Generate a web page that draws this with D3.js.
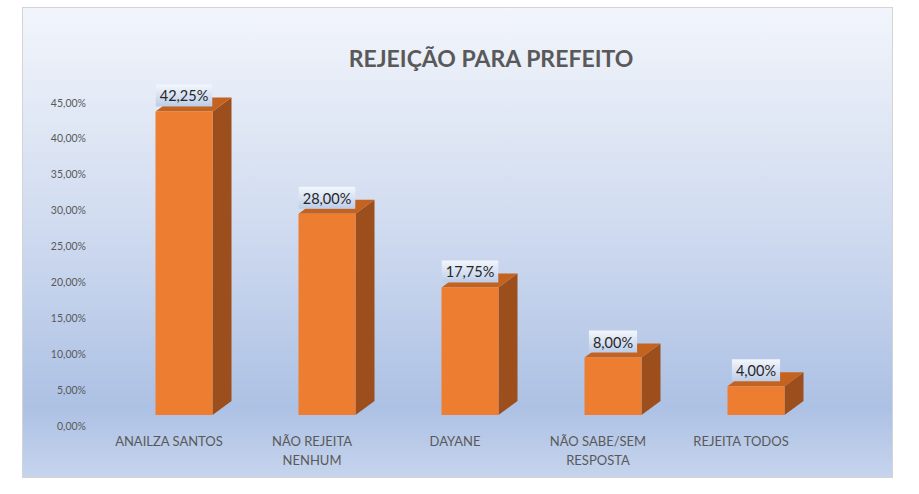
<!DOCTYPE html>
<html>
<head>
<meta charset="utf-8">
<script src="https://cdn.jsdelivr.net/npm/d3@7"></script>
<style>
  body { margin: 0; background: #fff; }
  text { font-family: Lato, "Open Sans", sans-serif; }
</style>
</head>
<body>
<svg id="chart" width="919" height="494"></svg>
<script>
const categories = ['ANAILZA SANTOS', 'NÃO REJEITA\nNENHUM', 'DAYANE', 'NÃO SABE/SEM\nRESPOSTA', 'REJEITA TODOS'];
const values = [42.25, 28.0, 17.75, 8.0, 4.0];
const yTicks = [0, 5, 10, 15, 20, 25, 30, 35, 40, 45];

const pct = (v) => v.toFixed(2).replace('.', ',') + '%';

const svg = d3.select('svg[id=chart]');

// background gradient of the chart area
const defs = svg.append('defs');
const bg = defs.append('linearGradient').attr('id', 'bg').attr('x1', 0).attr('y1', 0).attr('x2', 0).attr('y2', 1);
bg.append('stop').attr('offset', '0%').attr('stop-color', '#f2f5fb');
bg.append('stop').attr('offset', '45%').attr('stop-color', '#d1dcf0');
bg.append('stop').attr('offset', '85%').attr('stop-color', '#adc1e4');
bg.append('stop').attr('offset', '100%').attr('stop-color', '#c6d4ed');

const lbl = defs.append('linearGradient').attr('id', 'lbl').attr('x1', 0).attr('y1', 0).attr('x2', 0).attr('y2', 1);
lbl.append('stop').attr('offset', '0%').attr('stop-color', '#f4f7fc');
lbl.append('stop').attr('offset', '100%').attr('stop-color', '#bccde9');

svg.append('rect')
	.attr('x', 22.5)
	.attr('y', 7.5)
	.attr('width', 870)
	.attr('height', 470)
	.attr('fill', 'url(#bg)')
	.attr('stroke', '#d4d4d4');

svg.append('text')
	.attr('x', 491)
	.attr('y', 67)
	.attr('text-anchor', 'middle')
	.attr('font-size', 23)
	.attr('font-weight', 'bold')
	.attr('fill', '#595959')
	.text('REJEIÇÃO PARA PREFEITO');

const x = d3.scaleBand().domain(categories).range([97.5, 812.5]).paddingInner(0).paddingOuter(0);
const y = d3.scaleLinear().domain([0, 45]).range([426, 102.7]);

// oblique offsets: bar front sits a bit behind the axis plane, side gives depth
const OFF = { dx: 15, dy: -11 };
const DEPTH = { dx: 19, dy: -14 };
const BAR_W = 57;

// y axis (labels only)
const yAxis = d3.axisLeft(y).tickValues(yTicks).tickFormat(pct).tickSize(0).tickPadding(0);
const gy = svg.append('g').attr('transform', 'translate(86,0)').call(yAxis);
gy.select('.domain').remove();
gy.selectAll('text')
	.attr('font-size', 10.5)
	.attr('fill', '#595959')
	.style('font-family', 'Lato, "Open Sans", sans-serif');

const data = categories.map((c, i) => ({ cat: c, value: values[i] }));

const bars = svg.selectAll('.bar')
	.data(data)
	.join('g')
	.attr('class', 'bar');

bars.each(function (d) {
	const g = d3.select(this);
	const x0 = x(d.cat) + x.bandwidth() / 2 - BAR_W / 2 + OFF.dx;
	const x1 = x0 + BAR_W;
	const yb = y(0) + OFF.dy;
	const yt = y(d.value) + OFF.dy;
	const pts = (arr) => arr.map((p) => p.join(',')).join(' ');

	// side
	g.append('polygon')
		.attr('points', pts([[x1, yt], [x1 + DEPTH.dx, yt + DEPTH.dy], [x1 + DEPTH.dx, yb + DEPTH.dy], [x1, yb]]))
		.attr('fill', '#9c4e1c');
	// top
	g.append('polygon')
		.attr('points', pts([[x0, yt], [x0 + DEPTH.dx, yt + DEPTH.dy], [x1 + DEPTH.dx, yt + DEPTH.dy], [x1, yt]]))
		.attr('fill', '#c4621f');
	// front
	g.append('rect')
		.attr('x', x0)
		.attr('y', yt)
		.attr('width', BAR_W)
		.attr('height', yb - yt)
		.attr('fill', '#ed7d31');

	// data label
	const lg = g.append('g');
	const t = lg.append('text')
		.attr('x', x0 + BAR_W / 2)
		.attr('y', yt - 10)
		.attr('text-anchor', 'middle')
		.attr('font-size', 14.5)
		.attr('fill', '#262626')
		.text(pct(d.value));
	const w = t.node().getComputedTextLength() + 8;
	lg.insert('rect', 'text')
		.attr('x', x0 + BAR_W / 2 - w / 2)
		.attr('y', yt - 27)
		.attr('width', w)
		.attr('height', 22)
		.attr('fill', 'url(#lbl)');
});

// category labels
svg.selectAll('.cat')
	.data(categories)
	.join('text')
	.attr('class', 'cat')
	.attr('text-anchor', 'middle')
	.attr('font-size', 13)
	.attr('fill', '#595959')
	.attr('x', (c) => x(c) + x.bandwidth() / 2)
	.attr('y', 446)
	.each(function (c) {
		const lines = c.split('\n');
		d3.select(this)
			.selectAll('tspan')
			.data(lines)
			.join('tspan')
			.attr('x', x(c) + x.bandwidth() / 2)
			.attr('dy', (_, i) => (i === 0 ? 0 : 19))
			.text((l) => l);
	});
</script>
</body>
</html>
